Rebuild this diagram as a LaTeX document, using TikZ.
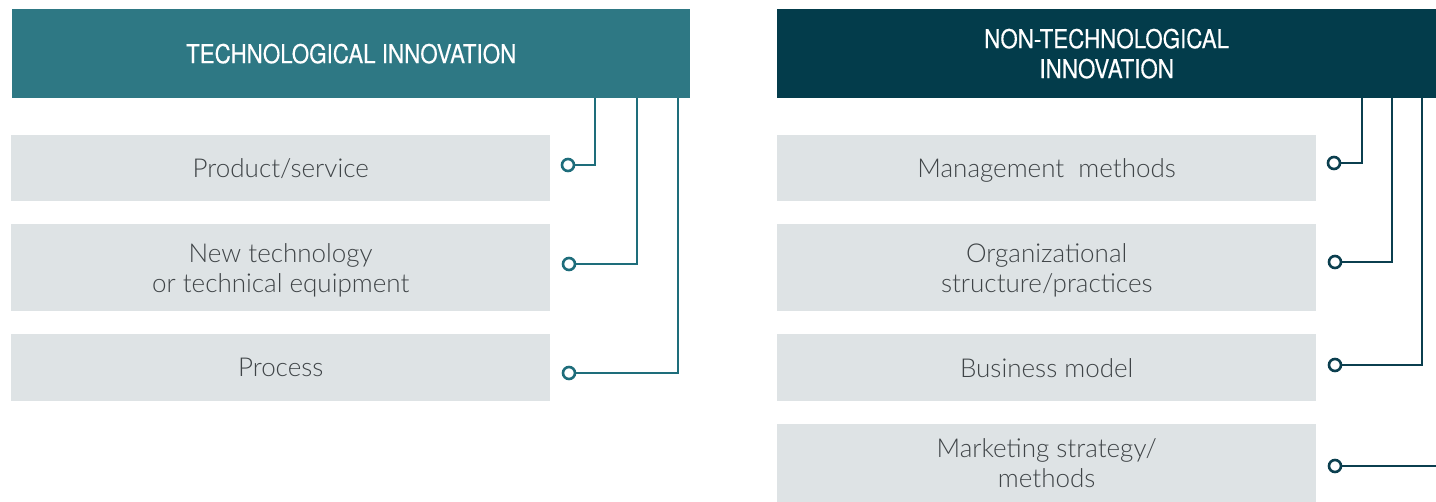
\documentclass[tikz,border=0pt]{standalone}
\usepackage{fontspec}
\setmainfont{Lato}[UprightFont=* Light]
\newfontfamily\headfont{TeX Gyre Heros}[FakeStretch=0.86,FakeBold=0.35]
\definecolor{techcol}{HTML}{2E7884}
\definecolor{nontechcol}{HTML}{033C4B}
\definecolor{techline}{HTML}{1E6D7B}
\definecolor{nontechline}{HTML}{0B3F4F}
\definecolor{boxfill}{HTML}{DEE3E5}
\definecolor{bodytext}{HTML}{3F4447}
\begin{document}
\begin{tikzpicture}[x=1pt,y=-1pt,
  header/.style={anchor=north west, inner sep=0pt, text=white, font=\headfont\fontsize{26}{30}\selectfont, align=center},
  itembox/.style={anchor=north west, fill=boxfill, inner sep=0pt, minimum width=539pt, text=bodytext, font=\fontsize{26}{30}\selectfont, align=center, text depth=0pt},
  dot/.style={circle, draw=#1, line width=2.6pt, fill=white, inner sep=0pt, minimum size=12pt},
  link/.style={draw=#1, line width=2pt}]
\useasboundingbox (0,0) rectangle (1436,502);
% headers
\node[header, fill=techcol, minimum width=678pt, minimum height=89pt] (h1) at (12,9) {TECHNOLOGICAL INNOVATION};
\node[header, fill=nontechcol, minimum width=659pt, minimum height=89pt] (h2) at (777,9) {NON-TECHNOLOGICAL\\INNOVATION};
% left boxes
\node[itembox, minimum height=66pt] (l1) at (11,135) {Product/service};
\node[itembox, minimum height=87pt] (l2) at (11,224) {New technology\\or technical equipment};
\node[itembox, minimum height=67pt] (l3) at (11,334) {Process};
% right boxes
\node[itembox, minimum height=66pt] (r1) at (777,135) {Management\ \ methods};
\node[itembox, minimum height=87pt] (r2) at (777,224) {Organizational\\structure/practices};
\node[itembox, minimum height=67pt] (r3) at (777,334) {Business model};
\node[itembox, minimum height=78pt] (r4) at (777,424) {Marketing strategy/\\methods};
% connector top ends
\coordinate (lt1) at (595,98);
\coordinate (lt2) at (637,98);
\coordinate (lt3) at (678,98);
\coordinate (rt1) at (1362,98);
\coordinate (rt2) at (1392,98);
\coordinate (rt3) at (1422,98);
\coordinate (rt4) at (1436,466);
% dots
\node[dot=techline] (lc1) at (568,165) {};
\node[dot=techline] (lc2) at (569,264) {};
\node[dot=techline] (lc3) at (569,373) {};
\node[dot=nontechline] (rc1) at (1334,163) {};
\node[dot=nontechline] (rc2) at (1335,262) {};
\node[dot=nontechline] (rc3) at (1335,365) {};
\node[dot=nontechline] (rc4) at (1335,466) {};
% connectors
\draw[link=techline] (lc1.east) -| (lt1);
\draw[link=techline] (lc2.east) -| (lt2);
\draw[link=techline] (lc3.east) -| (lt3);
\draw[link=nontechline] (rc1.east) -| (rt1);
\draw[link=nontechline] (rc2.east) -| (rt2);
\draw[link=nontechline] (rc3.east) -| (rt3);
\draw[link=nontechline] (rc4.east) -- (rt4);
\end{tikzpicture}
\end{document}
